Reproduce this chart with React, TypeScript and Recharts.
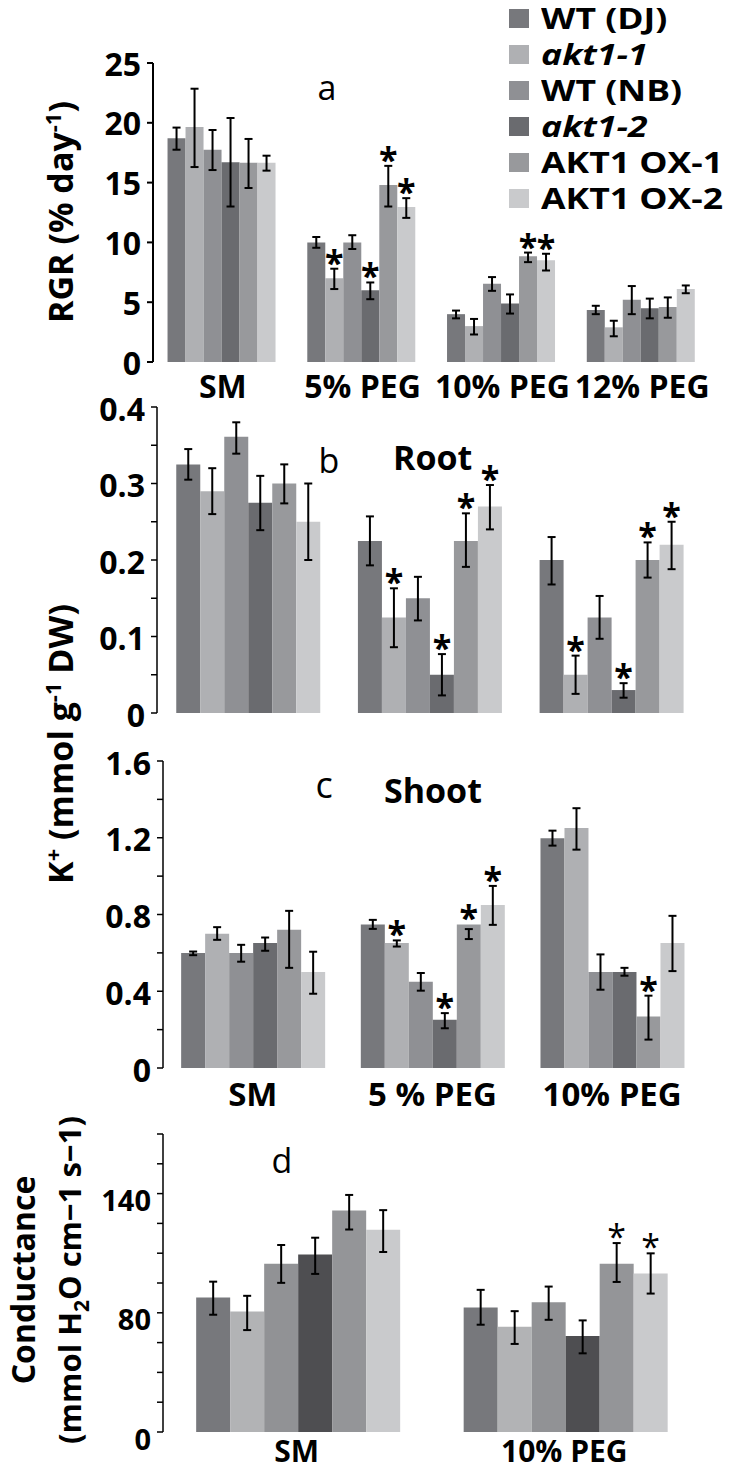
import React from 'react';
import { BarChart, Bar, XAxis, YAxis, ErrorBar, LabelList, Legend } from 'recharts';

const FONT = "'Open Sans', 'DejaVu Sans', sans-serif";

const seriesNames = ['WT (DJ)', 'akt1-1', 'WT (NB)', 'akt1-2', 'AKT1 OX-1', 'AKT1 OX-2'];
const seriesItalic = [false, true, false, true, false, false];
const abcColors = ['#77787c', '#afb0b3', '#8f9094', '#6a6b6f', '#98999c', '#c9cacc'];
const dColors = ['#77787c', '#b2b3b5', '#919295', '#4e4e51', '#949598', '#c9cacc'];

// ---- Panel a : RGR ----
const aCategories = ['SM', '5% PEG', '10% PEG', '12% PEG'];
const aValues = [
  [18.7, 10.0, 4.0, 4.35],
  [19.65, 7.0, 3.0, 2.9],
  [17.75, 10.0, 6.55, 5.2],
  [16.7, 6.0, 4.9, 4.5],
  [16.65, 14.8, 8.85, 4.6],
  [16.65, 12.95, 8.5, 6.1],
];
const aLow = [
  [17.75, 9.55, 3.65, 4.0],
  [16.3, 6.1, 2.3, 2.15],
  [16.05, 9.45, 5.95, 4.0],
  [13.0, 5.25, 4.05, 3.65],
  [14.55, 13.0, 8.35, 3.7],
  [16.0, 12.05, 7.65, 5.75],
];
const aHigh = [
  [19.6, 10.45, 4.3, 4.7],
  [22.85, 7.8, 3.6, 3.45],
  [19.4, 10.6, 7.1, 6.35],
  [20.4, 6.65, 5.65, 5.3],
  [18.65, 16.4, 9.15, 5.4],
  [17.25, 13.7, 9.05, 6.4],
];
const aStars = [
  [0, 0, 0, 0],
  [0, 1, 0, 0],
  [0, 0, 0, 0],
  [0, 1, 0, 0],
  [0, 1, 1, 0],
  [0, 1, 1, 0],
];
const aTicks = [0, 5, 10, 15, 20, 25];
const aTickLabels = ['0', '5', '10', '15', '20', '25'];

// ---- Panel b : Root K+ ----
const bCategories = ['SM', '5% PEG', '10% PEG'];
const bValues = [
  [0.325, 0.225, 0.2],
  [0.29, 0.125, 0.05],
  [0.361, 0.15, 0.125],
  [0.275, 0.05, 0.03],
  [0.3, 0.225, 0.2],
  [0.25, 0.27, 0.22],
];
const bLow = [
  [0.305, 0.193, 0.168],
  [0.26, 0.086, 0.025],
  [0.339, 0.121, 0.097],
  [0.239, 0.023, 0.02],
  [0.274, 0.191, 0.177],
  [0.2, 0.24, 0.188],
];
const bHigh = [
  [0.345, 0.257, 0.23],
  [0.32, 0.163, 0.075],
  [0.38, 0.178, 0.153],
  [0.31, 0.077, 0.039],
  [0.325, 0.261, 0.223],
  [0.3, 0.298, 0.25],
];
const bStars = [
  [0, 0, 0],
  [0, 1, 1],
  [0, 0, 0],
  [0, 1, 1],
  [0, 1, 1],
  [0, 1, 1],
];
const bTicks = [0, 0.05, 0.1, 0.15, 0.2, 0.25, 0.3, 0.35, 0.4];
const bTickLabels = ['0', '', '0.1', '', '0.2', '', '0.3', '', '0.4'];

// ---- Panel c : Shoot K+ ----
const cCategories = ['SM', '5 % PEG', '10% PEG'];
const cValues = [
  [0.6, 0.748, 1.197],
  [0.7, 0.651, 1.251],
  [0.6, 0.449, 0.5],
  [0.652, 0.252, 0.5],
  [0.72, 0.748, 0.269],
  [0.5, 0.85, 0.651],
];
const cLow = [
  [0.588, 0.725, 1.159],
  [0.668, 0.633, 1.138],
  [0.554, 0.403, 0.408],
  [0.611, 0.207, 0.481],
  [0.522, 0.672, 0.148],
  [0.387, 0.746, 0.505],
];
const cHigh = [
  [0.607, 0.772, 1.237],
  [0.734, 0.665, 1.354],
  [0.642, 0.495, 0.592],
  [0.68, 0.286, 0.522],
  [0.819, 0.724, 0.377],
  [0.606, 0.949, 0.793],
];
const cStars = [
  [0, 0, 0],
  [0, 1, 0],
  [0, 0, 0],
  [0, 1, 0],
  [0, 1, 1],
  [0, 1, 0],
];
const cTicks = [0, 0.2, 0.4, 0.6, 0.8, 1.0, 1.2, 1.4, 1.6];
const cTickLabels = ['0', '', '0.4', '', '0.8', '', '1.2', '', '1.6'];

// ---- Panel d : Conductance ----
const dCategories = ['SM', '10% PEG'];
const dValues = [
  [90.2, 83.6],
  [80.9, 70.6],
  [113.0, 87.1],
  [119.2, 64.4],
  [148.6, 113.0],
  [135.7, 106.3],
];
const dLow = [
  [78.7, 72.0],
  [68.4, 59.1],
  [100.1, 75.3],
  [106.1, 52.8],
  [135.9, 100.7],
  [120.8, 92.9],
];
const dHigh = [
  [100.9, 95.4],
  [91.4, 81.1],
  [125.5, 97.6],
  [130.4, 74.9],
  [159.1, 126.8],
  [148.9, 119.9],
];
const dStars = [
  [0, 0],
  [0, 0],
  [0, 0],
  [0, 0],
  [0, 1],
  [0, 1],
];
const dTicks = [0, 20, 40, 60, 80, 100, 120, 140, 160, 180, 200];
const dTickLabels = ['0', '', '', '', '80', '', '', '', '140', '', ''];

function buildData(categories: string[], values: number[][], low: number[][], high: number[][]) {
  return categories.map((cat, c) => {
    const row: any = { cat };
    values.forEach((vals, s) => {
      row['s' + s] = vals[c];
      row['e' + s] = [vals[c] - low[s][c], high[s][c] - vals[c]];
    });
    return row;
  });
}

const LegendContent = () => (
  <div style={{ fontFamily: FONT, fontWeight: 700, width: 230 }}>
    {seriesNames.map((n, i) => (
      <div key={n} style={{ height: 36, display: 'flex', alignItems: 'center' }}>
        <div style={{ width: 20, height: 19, background: abcColors[i], marginRight: 12, flex: 'none' }} />
        <span
          style={{
            fontSize: 28,
            fontStyle: seriesItalic[i] ? 'italic' : 'normal',
            display: 'inline-block',
            transform: 'scaleX(1.27)',
            transformOrigin: 'left center',
            whiteSpace: 'nowrap',
            lineHeight: '34px',
          }}
        >
          {n}
        </span>
      </div>
    ))}
  </div>
);

type PanelProps = {
  top: number;
  height: number;
  margin: { top: number; right: number; bottom: number; left: number };
  categories: string[];
  values: number[][];
  low: number[][];
  high: number[][];
  stars: number[][];
  colors: string[];
  yMax: number;
  yTicks: number[];
  yTickLabels: string[];
  tickFont: number;
  tickDy: number;
  catFont: number;
  catHeight: number;
  catMargin: number;
  showCats: boolean;
  axisWidth: number;
  gap: string;
  starBold: boolean;
  legend?: boolean;
};

function Panel(p: PanelProps) {
  const data = buildData(p.categories, p.values, p.low, p.high);
  const n = p.categories.length;
  const divTicks = Array.from({ length: n + 1 }, (_, i) => i);
  const starRenderer = (s: number) => (props: any) => {
    const vb = props.viewBox && props.viewBox.width != null ? props.viewBox : props;
    const { x, y, width, height } = vb;
    const idx = props.index;
    if (idx == null || !p.stars[s][idx]) return null;
    const v = p.values[s][idx];
    const pxPerUnit = height / v;
    const errTop = y - (p.high[s][idx] - v) * pxPerUnit;
    const top = Math.min(y, errTop);
    return (
      <text
        x={x + width / 2}
        y={top + 6}
        textAnchor="middle"
        fontFamily={FONT}
        fontWeight={p.starBold ? 700 : 400}
        fontSize={34}
        fill="#000"
      >
        *
      </text>
    );
  };
  return (
    <div style={{ position: 'absolute', left: 0, top: p.top }}>
      <BarChart
        width={739}
        height={p.height}
        data={data}
        margin={p.margin}
        barCategoryGap={p.gap}
        barGap={0}
      >
        <XAxis
          xAxisId="div"
          type="number"
          domain={[0, n]}
          ticks={divTicks}
          allowDataOverflow
          tick={false}
          height={0}
          tickSize={7}
          axisLine={{ stroke: '#000', strokeWidth: p.axisWidth }}
          tickLine={{ stroke: '#000', strokeWidth: p.axisWidth }}
        />
        <XAxis
          xAxisId="cat"
          dataKey="cat"
          hide={!p.showCats}
          height={p.catHeight}
          interval={0}
          axisLine={false}
          tickLine={false}
          tickSize={0}
          tickMargin={p.catMargin}
          tick={{ fontFamily: FONT, fontWeight: 700, fontSize: p.catFont, fill: '#000' }}
        />
        <YAxis
          width={60}
          domain={[0, p.yMax]}
          ticks={p.yTicks}
          interval={0}
          allowDataOverflow
          tickSize={6}
          tickMargin={6}
          axisLine={{ stroke: '#000', strokeWidth: p.axisWidth }}
          tickLine={{ stroke: '#000', strokeWidth: p.axisWidth }}
          tick={(tp: any) => {
            const label = p.yTickLabels[tp.index];
            if (!label) return <g />;
            return (
              <text
                x={tp.x}
                y={tp.y + p.tickDy}
                textAnchor="end"
                dominantBaseline="central"
                fontFamily={FONT}
                fontWeight={700}
                fontSize={p.tickFont}
                fill="#000"
              >
                {label}
              </text>
            );
          }}
        />
        {p.legend && (
          <Legend
            layout="horizontal"
            verticalAlign="middle"
            align="center"
            content={<LegendContent />}
            wrapperStyle={{ position: 'absolute', left: 509, top: 0, width: 230 }}
          />
        )}
        {p.values.map((_, s) => (
          <Bar
            key={s}
            xAxisId="cat"
            dataKey={'s' + s}
            name={seriesNames[s]}
            fill={p.colors[s]}
            isAnimationActive={false}
          >
            <ErrorBar dataKey={'e' + s} direction="y" width={4} strokeWidth={2} stroke="#000" />
            <LabelList dataKey={'s' + s} content={starRenderer(s)} />
          </Bar>
        ))}
      </BarChart>
    </div>
  );
}

const Overlay = () => (
  <svg
    width={739}
    height={1471}
    style={{ position: 'absolute', left: 0, top: 0, pointerEvents: 'none' }}
    fontFamily={FONT}
  >
    <text transform="translate(73,212) rotate(-90)" textAnchor="middle" fontWeight={700} fontSize={34}>
      RGR (% day
      <tspan dy={-12} fontSize={22}>-1</tspan>
      <tspan dy={12}>)</tspan>
    </text>
    <text transform="translate(73,744) rotate(-90)" textAnchor="middle" fontWeight={700} fontSize={34}>
      K<tspan dy={-12} fontSize={22}>+</tspan>
      <tspan dy={12}> (mmol g</tspan>
      <tspan dy={-12} fontSize={22}>-1</tspan>
      <tspan dy={12}> DW)</tspan>
    </text>
    <text transform="translate(35,1280) rotate(-90)" textAnchor="middle" fontWeight={700} fontSize={32}>
      Conductance
    </text>
    <text transform="translate(81,1280) rotate(-90)" textAnchor="middle" fontWeight={700} fontSize={31}>
      (mmol H<tspan dy={8} fontSize={21}>2</tspan>
      <tspan dy={-8}>O cm−1 s−1)</tspan>
    </text>
    <text x={327} y={100} textAnchor="middle" fontSize={34}>a</text>
    <text x={329} y={473} textAnchor="middle" fontSize={34}>b</text>
    <text x={393} y={470} fontWeight={700} fontSize={34}>Root</text>
    <text x={324} y={798} textAnchor="middle" fontSize={36}>c</text>
    <text x={384} y={803} fontWeight={700} fontSize={34}>Shoot</text>
    <text x={282} y={1173} textAnchor="middle" fontSize={34}>d</text>
  </svg>
);

export default function App() {
  return (
    <div
      style={{
        position: 'absolute',
        left: 0,
        top: 0,
        width: 739,
        height: 1471,
        background: '#fff',
        overflow: 'hidden',
      }}
    >
      <Panel
        top={0}
        height={415}
        margin={{ top: 63, right: 27, bottom: 3, left: 93 }}
        categories={aCategories}
        values={aValues}
        low={aLow}
        high={aHigh}
        stars={aStars}
        colors={abcColors}
        yMax={25}
        yTicks={aTicks}
        yTickLabels={aTickLabels}
        tickFont={32}
        tickDy={0}
        catFont={32}
        catHeight={50}
        catMargin={13}
        showCats={true}
        axisWidth={2}
        gap="10.4%"
        starBold={true}
        legend={true}
      />
      <Panel
        top={385}
        height={360}
        margin={{ top: 22, right: 37, bottom: 32, left: 97 }}
        categories={bCategories}
        values={bValues}
        low={bLow}
        high={bHigh}
        stars={bStars}
        colors={abcColors}
        yMax={0.4}
        yTicks={bTicks}
        yTickLabels={bTickLabels}
        tickFont={32}
        tickDy={1}
        catFont={32}
        catHeight={0}
        catMargin={0}
        showCats={false}
        axisWidth={1.5}
        gap="10.6%"
        starBold={true}
      />
      <Panel
        top={735}
        height={385}
        margin={{ top: 26, right: 37, bottom: 7, left: 103 }}
        categories={cCategories}
        values={cValues}
        low={cLow}
        high={cHigh}
        stars={cStars}
        colors={abcColors}
        yMax={1.6}
        yTicks={cTicks}
        yTickLabels={cTickLabels}
        tickFont={32}
        tickDy={1}
        catFont={33}
        catHeight={45}
        catMargin={15}
        showCats={true}
        axisWidth={1.5}
        gap="10.1%"
        starBold={true}
      />
      <Panel
        top={1110}
        height={361}
        margin={{ top: 24, right: 41, bottom: 1, left: 103 }}
        categories={dCategories}
        values={dValues}
        low={dLow}
        high={dHigh}
        stars={dStars}
        colors={dColors}
        yMax={200}
        yTicks={dTicks}
        yTickLabels={dTickLabels}
        tickFont={29}
        tickDy={6}
        catFont={30}
        catHeight={38}
        catMargin={9}
        showCats={true}
        axisWidth={1.5}
        gap="12.4%"
        starBold={false}
      />
      <Overlay />
    </div>
  );
}
